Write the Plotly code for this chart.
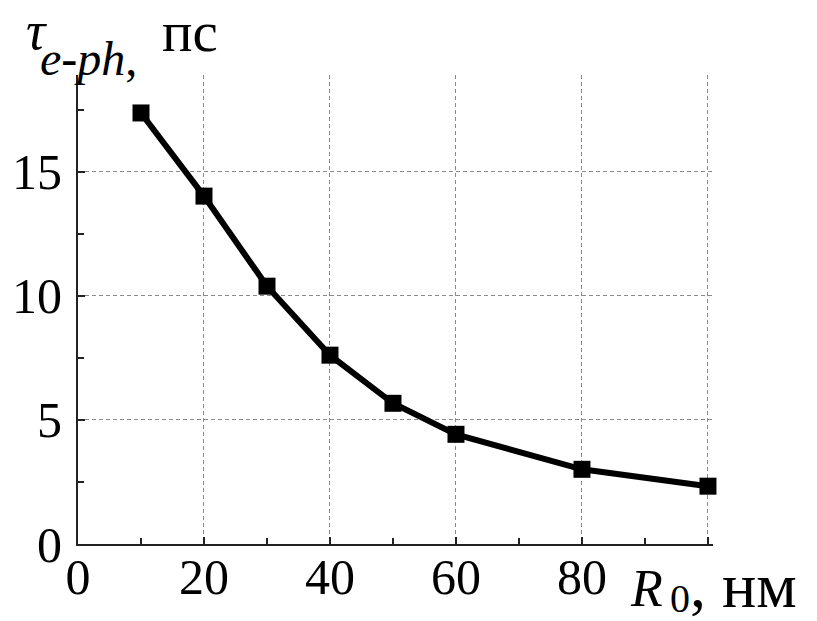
import plotly.graph_objects as go

# Data
R0 = [10, 20, 30, 40, 50, 60, 80, 100]
tau = [17.37, 14.02, 10.39, 7.61, 5.67, 4.42, 3.01, 2.33]
x_ticks = [0, 20, 40, 60, 80, 100]
x_ticktext = ["0", "20", "40", "60", "80", ""]
y_ticks = [0, 5, 10, 15]
y_ticktext = ["0", "5", "10", "15"]

W, H = 817, 621
L, R, T, B = 78, 104, 75, 77
PW, PH = W - L - R, H - T - B

def px(x):
    return (x - L) / PW

def py(y):
    return (H - B - y) / PH

FONT = "'Liberation Serif', 'Times New Roman', Times, serif"

fig = go.Figure()
fig.add_trace(go.Scatter(
    x=R0, y=tau, mode="lines+markers",
    line=dict(color="black", width=6),
    marker=dict(symbol="square", size=17, color="black"),
    showlegend=False, cliponaxis=False,
))

axis_common = dict(
    showline=True, linecolor="#222", linewidth=2,
    ticks="inside", ticklen=7, tickwidth=2, tickcolor="#222",
    showgrid=True, gridcolor="#8a8a8a", gridwidth=1, griddash="4px,3px",
    zeroline=False, mirror=False, automargin=False,
    tickfont=dict(family=FONT, size=50, color="black"),
)

fig.update_xaxes(
    range=[0, 100.8], tickmode="array", tickvals=x_ticks, ticktext=x_ticktext,
    minor=dict(tickvals=[10, 30, 50, 70, 90], ticks="inside", ticklen=6,
               tickwidth=2, tickcolor="#222", showgrid=False),
    ticklabelstandoff=-12,
    **axis_common,
)
fig.update_yaxes(
    range=[0, 18.9], tickmode="array", tickvals=y_ticks, ticktext=y_ticktext,
    minor=dict(tickvals=[2.5, 7.5, 12.5, 17.5], ticks="inside", ticklen=6,
               tickwidth=2, tickcolor="#222", showgrid=False),
    ticklabelstandoff=4,
    **axis_common,
)

ann = []
def add(text, x, y, size, xanchor="left", yanchor="middle"):
    ann.append(dict(text=text, x=px(x), y=py(y), xref="paper", yref="paper",
                    xanchor=xanchor, yanchor=yanchor, showarrow=False,
                    font=dict(family=FONT, size=size, color="black")))

# y-axis title
add("<i>τ</i>", 24, 31, 54)
add("<i>e-ph</i>,", 38, 58, 48)
add("пс", 160, 31, 57)
# x-axis title
add("<i>R</i>", 628, 588, 52)
add("0", 668, 598, 40)
add(", нм", 688, 585, 64)

fig.update_layout(
    width=W, height=H,
    margin=dict(l=L, r=R, t=T, b=B),
    plot_bgcolor="white", paper_bgcolor="white",
    annotations=ann,
)

fig.write_html("out.html")
